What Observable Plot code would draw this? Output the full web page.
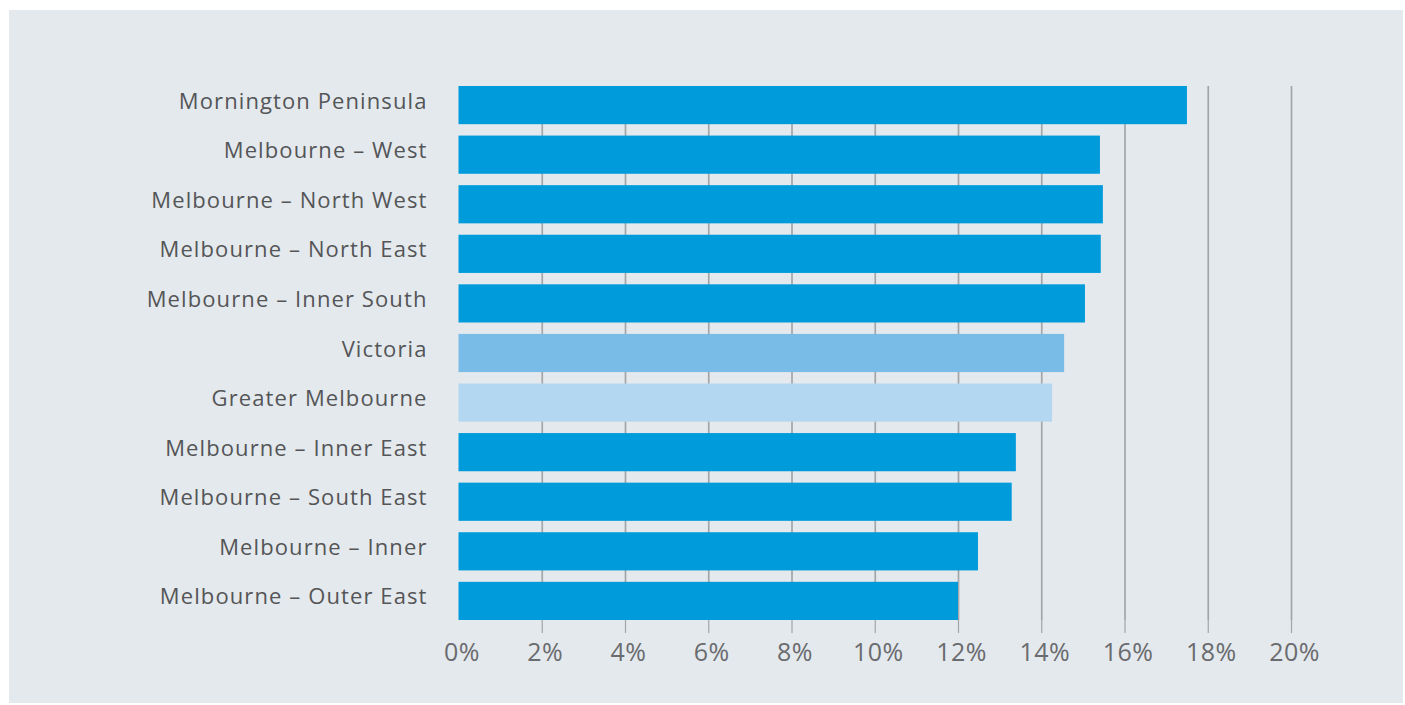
<!DOCTYPE html>
<html>
<head>
<meta charset="utf-8">
<script src="https://cdn.jsdelivr.net/npm/d3@7"></script>
<script src="https://cdn.jsdelivr.net/npm/@observablehq/plot@0.6"></script>
<style>
  html, body { margin: 0; padding: 0; background: #ffffff; }
  #panel { position: absolute; left: 9px; top: 10px; width: 1394px; height: 693px; background: #e4e9ed; }
  #panel svg { display: block; }
  #panel .ylab text { letter-spacing: 1.1px; }
  #panel .xlab text { letter-spacing: 0.5px; }
</style>
</head>
<body>
<div id="panel"></div>
<script>
const regions = [
  "Mornington Peninsula",
  "Melbourne – West",
  "Melbourne – North West",
  "Melbourne – North East",
  "Melbourne – Inner South",
  "Victoria",
  "Greater Melbourne",
  "Melbourne – Inner East",
  "Melbourne – South East",
  "Melbourne – Inner",
  "Melbourne – Outer East"
];
const shares = [17.5, 15.41, 15.48, 15.43, 15.05, 14.55, 14.26, 13.39, 13.29, 12.48, 12.0];
const groups = ["sa4", "sa4", "sa4", "sa4", "sa4", "state", "metro", "sa4", "sa4", "sa4", "sa4"];
const tickValues = [2, 4, 6, 8, 10, 12, 14, 16, 18, 20];
const tickLabelValues = [0, 2, 4, 6, 8, 10, 12, 14, 16, 18, 20];

const data = regions.map((r, i) => ({region: r, share: shares[i], group: groups[i]}));

const chart = Plot.plot({
  width: 1394,
  height: 693,
  marginTop: 76,
  marginBottom: 83,
  marginLeft: 449.5,
  marginRight: 112,
  style: {background: "transparent", fontFamily: "'Open Sans', sans-serif"},
  x: {domain: [0, 20], label: null},
  y: {domain: regions, paddingInner: 0.23, paddingOuter: 0, round: false, label: null},
  color: {domain: ["sa4", "state", "metro"], range: ["#009bdb", "#7abce8", "#b4d7f1"]},
  marks: [
    Plot.ruleX(tickValues, {stroke: "#a3a5a8", strokeWidth: 1.7}),
    Plot.barX(data, {x: "share", y: "region", fill: "group"}),
    Plot.axisX(tickValues, {tickSize: 13, stroke: "#a3a5a8", strokeWidth: 1.2, strokeOpacity: 1, text: null}),
    Plot.axisX(tickLabelValues, {tickSize: 0, tickPadding: 23, tickFormat: d => d + "%", fontSize: 25, fill: "#6a6b6e", dx: 3, label: null, className: "xlab"}),
    Plot.axisY({tickSize: 0, tickPadding: 31.5, fontSize: 22, fill: "#545557", dy: -4, label: null, className: "ylab"})
  ]
});
document.getElementById("panel").appendChild(chart);
</script>
</body>
</html>
